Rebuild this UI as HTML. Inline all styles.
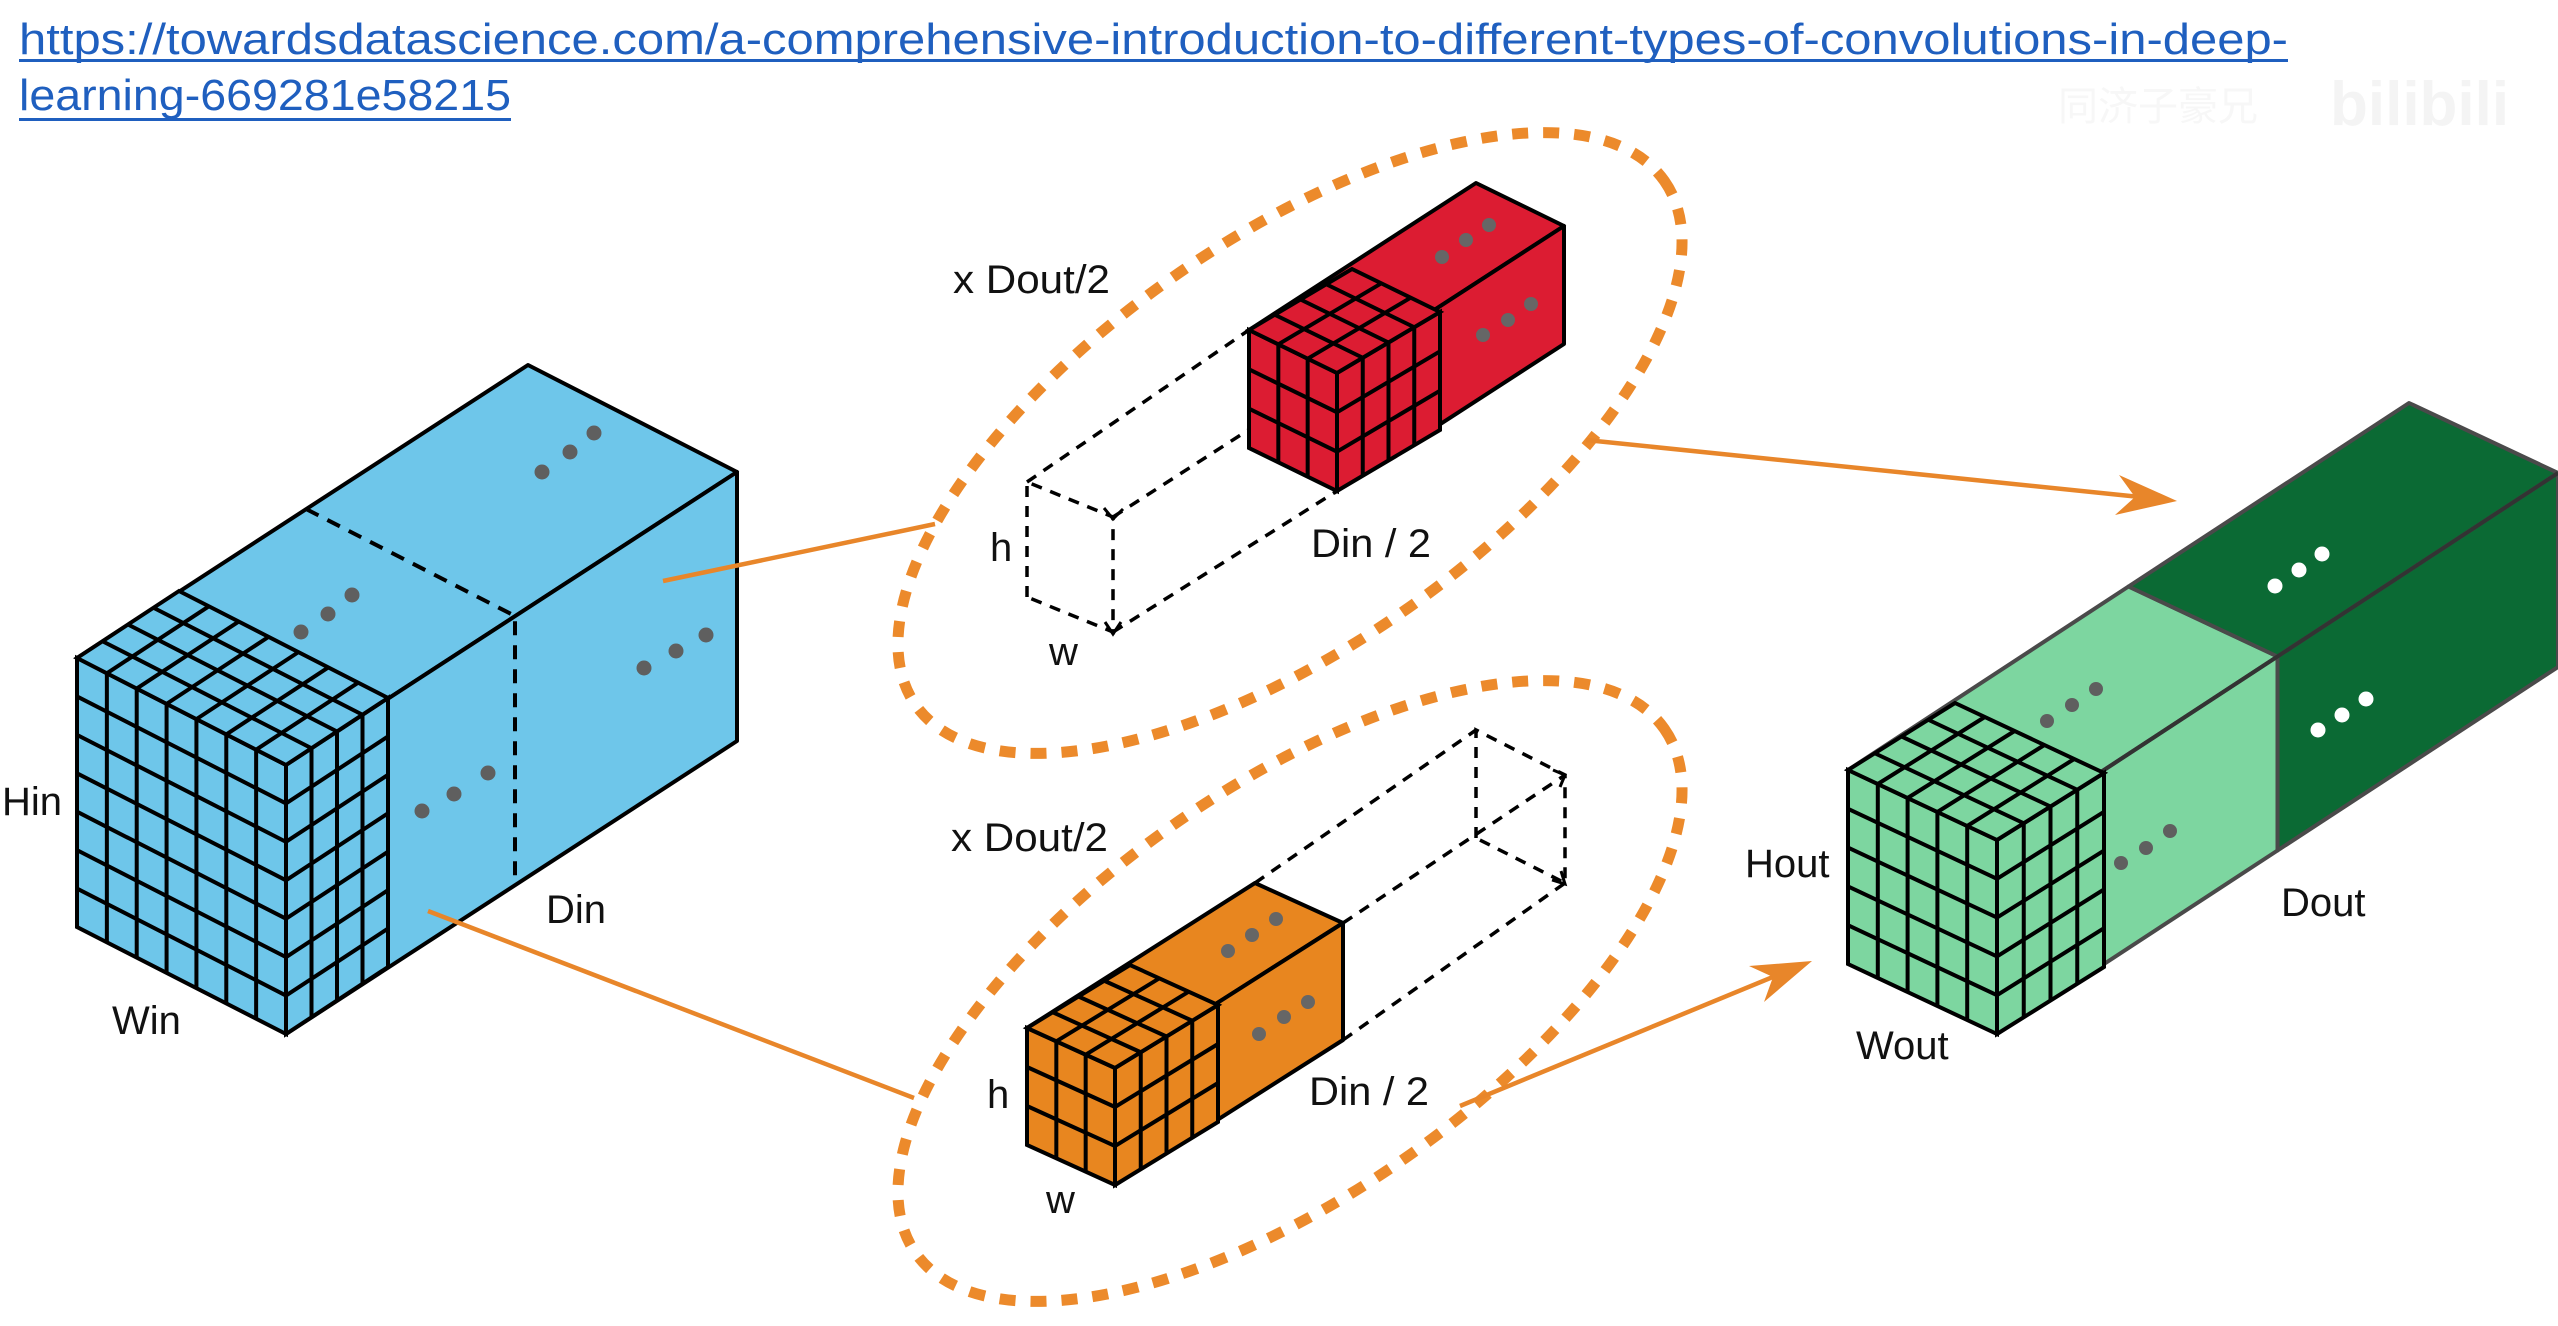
<!DOCTYPE html>
<html><head><meta charset="utf-8"><style>
html,body{margin:0;padding:0;background:#fff;width:2558px;height:1326px;overflow:hidden}
svg{display:block}
text{font-family:"Liberation Sans","Noto Sans CJK SC",sans-serif}
.g line,.g rect{vector-effect:non-scaling-stroke}
</style></head><body>
<svg width="2558" height="1326" viewBox="0 0 2558 1326" xmlns="http://www.w3.org/2000/svg">
<rect width="2558" height="1326" fill="#fff"/>

<!-- URL -->
<text x="19" y="54" font-size="44" fill="#1f5fbf" textLength="2269" lengthAdjust="spacingAndGlyphs">https://towardsdatascience.com/a-comprehensive-introduction-to-different-types-of-convolutions-in-deep-</text>
<rect x="19" y="59" width="2269" height="3" fill="#1f5fbf"/>
<text x="19" y="110" font-size="44" fill="#1f5fbf" textLength="492" lengthAdjust="spacingAndGlyphs">learning-669281e58215</text>
<rect x="19" y="118" width="492" height="3" fill="#1f5fbf"/>
<text x="2058" y="120" font-size="40" fill="#f7f7f7">同济子豪兄</text>
<text x="2330" y="125" font-size="62" font-weight="bold" fill="#f4f4f4">bilibili</text>

<!-- Ellipses -->
<ellipse cx="1290" cy="443" rx="457" ry="203" transform="rotate(-35 1290 443)" fill="none" stroke="#ec8a2b" stroke-width="11" stroke-dasharray="16 15"/>
<ellipse cx="1290" cy="991" rx="457" ry="203" transform="rotate(-35 1290 991)" fill="none" stroke="#ec8a2b" stroke-width="11" stroke-dasharray="16 15"/>

<!-- BLUE cube -->
<g stroke="#000" stroke-width="4" stroke-linejoin="round">
<polygon points="77,658 528,365 737,472 286,765" fill="#6ec6ea"/>
<polygon points="286,765 737,472 737,741 286,1034" fill="#6ec6ea"/>
</g>
<polyline points="306,509 515,616 515,885" fill="none" stroke="#000" stroke-width="4" stroke-dasharray="14 10"/>
<g class="g" stroke="#000" stroke-width="4" fill="#6ec6ea">
<g transform="matrix(209 107 0 269 77 658)"><rect width="1" height="1"/>
<line x1=".1429" y1="0" x2=".1429" y2="1"/><line x1=".2857" y1="0" x2=".2857" y2="1"/><line x1=".4286" y1="0" x2=".4286" y2="1"/><line x1=".5714" y1="0" x2=".5714" y2="1"/><line x1=".7143" y1="0" x2=".7143" y2="1"/><line x1=".8571" y1="0" x2=".8571" y2="1"/>
<line y1=".1429" x1="0" y2=".1429" x2="1"/><line y1=".2857" x1="0" y2=".2857" x2="1"/><line y1=".4286" x1="0" y2=".4286" x2="1"/><line y1=".5714" x1="0" y2=".5714" x2="1"/><line y1=".7143" x1="0" y2=".7143" x2="1"/><line y1=".8571" x1="0" y2=".8571" x2="1"/></g>
<g transform="matrix(102 -67 0 269 286 765)"><rect width="1" height="1"/>
<line x1=".25" y1="0" x2=".25" y2="1"/><line x1=".5" y1="0" x2=".5" y2="1"/><line x1=".75" y1="0" x2=".75" y2="1"/>
<line y1=".1429" x1="0" y2=".1429" x2="1"/><line y1=".2857" x1="0" y2=".2857" x2="1"/><line y1=".4286" x1="0" y2=".4286" x2="1"/><line y1=".5714" x1="0" y2=".5714" x2="1"/><line y1=".7143" x1="0" y2=".7143" x2="1"/><line y1=".8571" x1="0" y2=".8571" x2="1"/></g>
<g transform="matrix(209 107 102 -67 77 658)"><rect width="1" height="1"/>
<line x1=".1429" y1="0" x2=".1429" y2="1"/><line x1=".2857" y1="0" x2=".2857" y2="1"/><line x1=".4286" y1="0" x2=".4286" y2="1"/><line x1=".5714" y1="0" x2=".5714" y2="1"/><line x1=".7143" y1="0" x2=".7143" y2="1"/><line x1=".8571" y1="0" x2=".8571" y2="1"/>
<line y1=".25" x1="0" y2=".25" x2="1"/><line y1=".5" x1="0" y2=".5" x2="1"/><line y1=".75" x1="0" y2=".75" x2="1"/></g>
</g>
<g fill="#5f5f5f">
<circle cx="542" cy="472" r="7.5"/><circle cx="570" cy="452" r="7.5"/><circle cx="594" cy="433" r="7.5"/>
<circle cx="301" cy="632" r="7.5"/><circle cx="328" cy="614" r="7.5"/><circle cx="352" cy="595" r="7.5"/>
<circle cx="644" cy="668" r="7.5"/><circle cx="676" cy="651" r="7.5"/><circle cx="706" cy="635" r="7.5"/>
<circle cx="422" cy="811" r="7.5"/><circle cx="454" cy="794" r="7.5"/><circle cx="488" cy="773" r="7.5"/>
</g>

<!-- connectors -->
<g stroke="#e8862a" stroke-width="4.5" fill="none">
<line x1="663" y1="581" x2="935" y2="524"/>
<line x1="428" y1="911" x2="914" y2="1098"/>
<line x1="1586" y1="440" x2="2140" y2="497"/>
<line x1="1460" y1="1106" x2="1780" y2="974"/>
</g>
<polygon points="2177,501 2115,515 2135,497 2119,475" fill="#e8862a"/>
<polygon points="1812,961 1764,1002 1773,977 1749,966" fill="#e8862a"/>

<!-- RED dashed + cube -->
<g fill="none" stroke="#000" stroke-width="3.5" stroke-dasharray="11 9">
<polyline points="1027,597 1027,482 1113,517 1113,632 1027,597"/>
<line x1="1027" y1="482" x2="1249" y2="330"/>
<line x1="1113" y1="517" x2="1337" y2="373"/>
<line x1="1113" y1="632" x2="1337" y2="491"/>
</g>
<polyline points="1104,508 1113,519 1123,509" fill="none" stroke="#000" stroke-width="3"/>
<polyline points="1105,622 1113,634 1121,622" fill="none" stroke="#000" stroke-width="3"/>
<g stroke="#000" stroke-width="4" stroke-linejoin="round" fill="#dc1c32">
<polygon points="1249,330 1476,183 1564,226 1337,373"/>
<polygon points="1337,373 1564,226 1564,344 1337,491"/>
</g>
<g class="g" stroke="#000" stroke-width="4" fill="#dc1c32">
<g transform="matrix(88 43 0 118 1249 330)"><rect width="1" height="1"/>
<line x1=".3333" y1="0" x2=".3333" y2="1"/><line x1=".6667" y1="0" x2=".6667" y2="1"/>
<line y1=".3333" x1="0" y2=".3333" x2="1"/><line y1=".6667" x1="0" y2=".6667" x2="1"/></g>
<g transform="matrix(103 -61 0 118 1337 373)"><rect width="1" height="1"/>
<line x1=".25" y1="0" x2=".25" y2="1"/><line x1=".5" y1="0" x2=".5" y2="1"/><line x1=".75" y1="0" x2=".75" y2="1"/>
<line y1=".3333" x1="0" y2=".3333" x2="1"/><line y1=".6667" x1="0" y2=".6667" x2="1"/></g>
<g transform="matrix(88 43 103 -61 1249 330)"><rect width="1" height="1"/>
<line x1=".3333" y1="0" x2=".3333" y2="1"/><line x1=".6667" y1="0" x2=".6667" y2="1"/>
<line y1=".25" x1="0" y2=".25" x2="1"/><line y1=".5" x1="0" y2=".5" x2="1"/><line y1=".75" x1="0" y2=".75" x2="1"/></g>
</g>
<g fill="#666">
<circle cx="1442" cy="257" r="7"/><circle cx="1466" cy="240" r="7"/><circle cx="1489" cy="225" r="7"/>
<circle cx="1483" cy="335" r="7"/><circle cx="1508" cy="320" r="7"/><circle cx="1531" cy="304" r="7"/>
</g>

<!-- ORANGE dashed + cube -->
<g fill="none" stroke="#000" stroke-width="3.5" stroke-dasharray="11 9">
<polyline points="1476,838 1476,730 1565,775 1565,883 1476,838"/>
<line x1="1255" y1="883" x2="1476" y2="730"/>
<line x1="1343" y1="923" x2="1565" y2="775"/>
<line x1="1343" y1="1040" x2="1565" y2="883"/>
</g>
<polyline points="1553,770 1565,775 1560,787" fill="none" stroke="#000" stroke-width="3"/>
<polyline points="1552,880 1565,884 1561,871" fill="none" stroke="#000" stroke-width="3"/>
<g stroke="#000" stroke-width="4" stroke-linejoin="round" fill="#e8861f">
<polygon points="1027,1028 1255,883 1343,923 1115,1068"/>
<polygon points="1115,1068 1343,923 1343,1040 1115,1185"/>
</g>
<g class="g" stroke="#000" stroke-width="4" fill="#e8861f">
<g transform="matrix(88 40 0 117 1027 1028)"><rect width="1" height="1"/>
<line x1=".3333" y1="0" x2=".3333" y2="1"/><line x1=".6667" y1="0" x2=".6667" y2="1"/>
<line y1=".3333" x1="0" y2=".3333" x2="1"/><line y1=".6667" x1="0" y2=".6667" x2="1"/></g>
<g transform="matrix(103 -63 0 117 1115 1068)"><rect width="1" height="1"/>
<line x1=".25" y1="0" x2=".25" y2="1"/><line x1=".5" y1="0" x2=".5" y2="1"/><line x1=".75" y1="0" x2=".75" y2="1"/>
<line y1=".3333" x1="0" y2=".3333" x2="1"/><line y1=".6667" x1="0" y2=".6667" x2="1"/></g>
<g transform="matrix(88 40 103 -63 1027 1028)"><rect width="1" height="1"/>
<line x1=".3333" y1="0" x2=".3333" y2="1"/><line x1=".6667" y1="0" x2=".6667" y2="1"/>
<line y1=".25" x1="0" y2=".25" x2="1"/><line y1=".5" x1="0" y2=".5" x2="1"/><line y1=".75" x1="0" y2=".75" x2="1"/></g>
</g>
<g fill="#666">
<circle cx="1228" cy="951" r="7"/><circle cx="1252" cy="935" r="7"/><circle cx="1276" cy="919" r="7"/>
<circle cx="1259" cy="1034" r="7"/><circle cx="1284" cy="1017" r="7"/><circle cx="1308" cy="1002" r="7"/>
</g>

<!-- GREEN cube -->
<g stroke="#4a4a4a" stroke-width="4" stroke-linejoin="round">
<polygon points="1848,770 2128.5,586.5 2277.5,656.5 1997,840" fill="#7dd6a0"/>
<polygon points="1997,840 2277.5,656.5 2277.5,850.5 1997,1034" fill="#7dd6a0"/>
<polygon points="2128.5,586.5 2409,403 2558,473 2277.5,656.5" fill="#0b6a34"/>
<polygon points="2277.5,656.5 2558,473 2558,667 2277.5,850.5" fill="#0b6a34"/>
</g>
<line x1="1997" y1="840" x2="2558" y2="473" stroke="#333" stroke-width="4"/>
<g class="g" stroke="#000" stroke-width="4" fill="#7dd6a0">
<g transform="matrix(149 70 0 194 1848 770)"><rect width="1" height="1"/>
<line x1=".2" y1="0" x2=".2" y2="1"/><line x1=".4" y1="0" x2=".4" y2="1"/><line x1=".6" y1="0" x2=".6" y2="1"/><line x1=".8" y1="0" x2=".8" y2="1"/>
<line y1=".2" x1="0" y2=".2" x2="1"/><line y1=".4" x1="0" y2=".4" x2="1"/><line y1=".6" x1="0" y2=".6" x2="1"/><line y1=".8" x1="0" y2=".8" x2="1"/></g>
<g transform="matrix(107 -67 0 194 1997 840)"><rect width="1" height="1"/>
<line x1=".25" y1="0" x2=".25" y2="1"/><line x1=".5" y1="0" x2=".5" y2="1"/><line x1=".75" y1="0" x2=".75" y2="1"/>
<line y1=".2" x1="0" y2=".2" x2="1"/><line y1=".4" x1="0" y2=".4" x2="1"/><line y1=".6" x1="0" y2=".6" x2="1"/><line y1=".8" x1="0" y2=".8" x2="1"/></g>
<g transform="matrix(149 70 107 -67 1848 770)"><rect width="1" height="1"/>
<line x1=".2" y1="0" x2=".2" y2="1"/><line x1=".4" y1="0" x2=".4" y2="1"/><line x1=".6" y1="0" x2=".6" y2="1"/><line x1=".8" y1="0" x2=".8" y2="1"/>
<line y1=".25" x1="0" y2=".25" x2="1"/><line y1=".5" x1="0" y2=".5" x2="1"/><line y1=".75" x1="0" y2=".75" x2="1"/></g>
</g>
<g fill="#5f5f5f">
<circle cx="2047" cy="721" r="7"/><circle cx="2072" cy="705" r="7"/><circle cx="2096" cy="689" r="7"/>
<circle cx="2121" cy="863" r="7"/><circle cx="2146" cy="848" r="7"/><circle cx="2170" cy="831" r="7"/>
</g>
<g fill="#fff">
<circle cx="2275" cy="586" r="7.5"/><circle cx="2299" cy="570" r="7.5"/><circle cx="2322" cy="554" r="7.5"/>
<circle cx="2318" cy="730" r="7.5"/><circle cx="2342" cy="715" r="7.5"/><circle cx="2366" cy="699" r="7.5"/>
</g>

<!-- Labels -->
<g font-size="40" fill="#111">
<text x="2" y="815">Hin</text>
<text x="112" y="1034">Win</text>
<text x="546" y="923">Din</text>
<text x="953" y="293" textLength="157" lengthAdjust="spacingAndGlyphs">x Dout/2</text>
<text x="990" y="561">h</text>
<text x="1049" y="665">w</text>
<text x="1311" y="557" textLength="120" lengthAdjust="spacingAndGlyphs">Din / 2</text>
<text x="951" y="851" textLength="157" lengthAdjust="spacingAndGlyphs">x Dout/2</text>
<text x="987" y="1108">h</text>
<text x="1046" y="1213">w</text>
<text x="1309" y="1105" textLength="120" lengthAdjust="spacingAndGlyphs">Din / 2</text>
<text x="1745" y="877">Hout</text>
<text x="1856" y="1059">Wout</text>
<text x="2281" y="916">Dout</text>
</g>
</svg>
</body></html>
